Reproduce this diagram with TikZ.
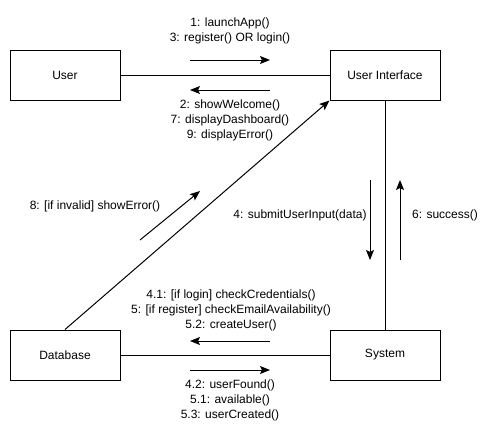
\documentclass[tikz,border=0pt]{standalone}
\usepackage{fontspec}
\setmainfont{Liberation Sans}
\usetikzlibrary{arrows.meta}
\begin{document}
\begin{tikzpicture}[x=0.75pt,y=-0.75pt,
  every node/.style={font=\fontsize{9}{11.25}\selectfont, inner sep=0pt},
  obj/.style={draw, line width=0.75pt, minimum width=82.5pt, minimum height=37.5pt, inner sep=0pt},
  link/.style={line width=0.75pt},
  msg/.style={line width=0.75pt, -{Stealth[length=7.5pt, width=6pt, inset=1.5pt]}},
  lbl/.style={align=center}]
\useasboundingbox (0,0) rectangle (501,440);

% objects
\node[obj] (user) at (65,75) {User};
\node[obj] (ui) at (385,75) {User Interface};
\node[obj] (db) at (65,355) {Database};
\node[obj] (sys) at (385,355) {System};

% links between objects
\draw[link] (user) -- (ui);
\draw[link] (db) -- (sys);
\draw[link] (ui) -- (sys);
\draw[msg] (db.north) -- (ui.south west);

% message arrows: User <-> User Interface
\coordinate (m1a) at (190,60); \coordinate (m1b) at (270,60);
\coordinate (m2a) at (270,90); \coordinate (m2b) at (190,90);
\draw[msg] (m1a) -- (m1b);
\draw[msg] (m2a) -- (m2b);
\node[lbl] (l1) at (230,30.5) {1: launchApp()\\3: register() OR login()};
\node[lbl] (l2) at (230,120.5) {2: showWelcome()\\7: displayDashboard()\\9: displayError()};

% message arrow: Database -> User Interface
\coordinate (m8a) at (140,240); \coordinate (m8b) at (200,191);
\draw[msg] (m8a) -- (m8b);
\node[lbl] (l8) at (95,206) {8: [if invalid] showError()};

% message arrows: User Interface <-> System
\coordinate (m4a) at (370,180); \coordinate (m4b) at (370,260);
\coordinate (m6a) at (400,260); \coordinate (m6b) at (400,180);
\draw[msg] (m4a) -- (m4b);
\draw[msg] (m6a) -- (m6b);
\node[lbl] (l4) at (300,215) {4: submitUserInput(data)};
\node[lbl] (l6) at (445,215) {6: success()};

% message arrows: System <-> Database
\coordinate (m5a) at (270,341); \coordinate (m5b) at (190,341);
\coordinate (m42a) at (190,370); \coordinate (m42b) at (270,370);
\draw[msg] (m5a) -- (m5b);
\draw[msg] (m42a) -- (m42b);
\node[lbl] (l5) at (231,310.5) {4.1: [if login] checkCredentials()\\5: [if register] checkEmailAvailability()\\5.2: createUser()};
\node[lbl] (l42) at (230,400.5) {4.2: userFound()\\5.1: available()\\5.3: userCreated()};
\end{tikzpicture}
\end{document}
